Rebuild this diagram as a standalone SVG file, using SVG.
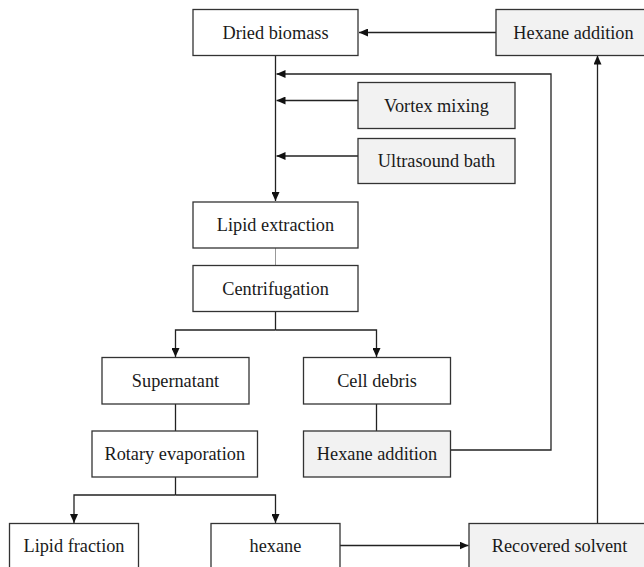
<svg xmlns="http://www.w3.org/2000/svg" width="644" height="567" viewBox="0 0 644 567">
  <defs>
    <marker id="arrow" markerUnits="userSpaceOnUse" markerWidth="9" markerHeight="8" refX="9" refY="4" orient="auto">
      <path d="M0,0 L9,4 L0,8 Z" fill="#111"/>
    </marker>
    <style>
      .box { stroke: #333; stroke-width: 1.3; fill: #ffffff; }
      .shaded { fill: #f2f2f2; }
      .label { font-family: "Liberation Serif", "Times New Roman", serif; font-size: 18.3px; fill: #1a1a1a; text-anchor: middle; }
      .link { stroke: #222; stroke-width: 1.3; fill: none; }
      .thin { stroke: #999; stroke-width: 1; fill: none; }
    </style>
  </defs>

  <rect width="644" height="567" fill="#ffffff"/>

  <!-- connectors -->
  <g id="connectors">
    <path class="link" d="M496,32.5 H359" marker-end="url(#arrow)"/>
    <path class="link" d="M275.5,55 V201" marker-end="url(#arrow)"/>
    <path class="link" d="M450.5,450 H551 V74 H276.5" marker-end="url(#arrow)"/>
    <path class="link" d="M358,100.5 H276.5" marker-end="url(#arrow)"/>
    <path class="link" d="M358,156 H276.5" marker-end="url(#arrow)"/>
    <path class="thin" d="M275.5,248 V265.5"/>
    <path class="link" d="M275.5,312 V330"/>
    <path class="link" d="M275.5,330 H175.5 V357" marker-end="url(#arrow)"/>
    <path class="link" d="M275.5,330 H376.5 V357" marker-end="url(#arrow)"/>
    <path class="link" d="M175.5,404 V431"/>
    <path class="link" d="M376.5,404 V431"/>
    <path class="link" d="M175.5,477 V495"/>
    <path class="link" d="M175.5,495 H74 V523" marker-end="url(#arrow)"/>
    <path class="link" d="M175.5,495 H275.5 V523" marker-end="url(#arrow)"/>
    <path class="link" d="M340,545.5 H468.5" marker-end="url(#arrow)"/>
    <path class="link" d="M597.5,523 V55.5" marker-end="url(#arrow)"/>
  </g>

  <g id="dried-biomass">
    <rect class="box" x="193" y="9.5" width="165" height="46"/>
    <text class="label" x="275.5" y="38.5">Dried biomass</text>
  </g>
  <g id="hexane-addition-top">
    <rect class="box shaded" x="496" y="9.5" width="155" height="46"/>
    <text class="label" x="573.5" y="38.5">Hexane addition</text>
  </g>
  <g id="vortex-mixing">
    <rect class="box shaded" x="358" y="82.5" width="157" height="46"/>
    <text class="label" x="436.5" y="111.5">Vortex mixing</text>
  </g>
  <g id="ultrasound-bath">
    <rect class="box shaded" x="358" y="138.5" width="157" height="45"/>
    <text class="label" x="436.5" y="167">Ultrasound bath</text>
  </g>
  <g id="lipid-extraction">
    <rect class="box" x="193" y="202" width="165" height="46"/>
    <text class="label" x="275.5" y="231">Lipid extraction</text>
  </g>
  <g id="centrifugation">
    <rect class="box" x="193" y="265.5" width="165" height="46"/>
    <text class="label" x="275.5" y="294.5">Centrifugation</text>
  </g>
  <g id="supernatant">
    <rect class="box" x="102" y="357.5" width="147" height="46.5"/>
    <text class="label" x="175.5" y="387">Supernatant</text>
  </g>
  <g id="cell-debris">
    <rect class="box" x="303.5" y="357.5" width="147" height="46.5"/>
    <text class="label" x="377" y="387">Cell debris</text>
  </g>
  <g id="rotary-evaporation">
    <rect class="box" x="92" y="431" width="165.5" height="46"/>
    <text class="label" x="174.75" y="460">Rotary evaporation</text>
  </g>
  <g id="hexane-addition-mid">
    <rect class="box shaded" x="303.5" y="431" width="147" height="46"/>
    <text class="label" x="377" y="460">Hexane addition</text>
  </g>
  <g id="lipid-fraction">
    <rect class="box" x="9.5" y="523.5" width="129" height="46"/>
    <text class="label" x="74" y="552">Lipid fraction</text>
  </g>
  <g id="hexane">
    <rect class="box" x="211" y="523.5" width="129" height="46"/>
    <text class="label" x="275.5" y="552">hexane</text>
  </g>
  <g id="recovered-solvent">
    <rect class="box shaded" x="469" y="523.5" width="182" height="46"/>
    <text class="label" x="559.5" y="552">Recovered solvent</text>
  </g>
</svg>
